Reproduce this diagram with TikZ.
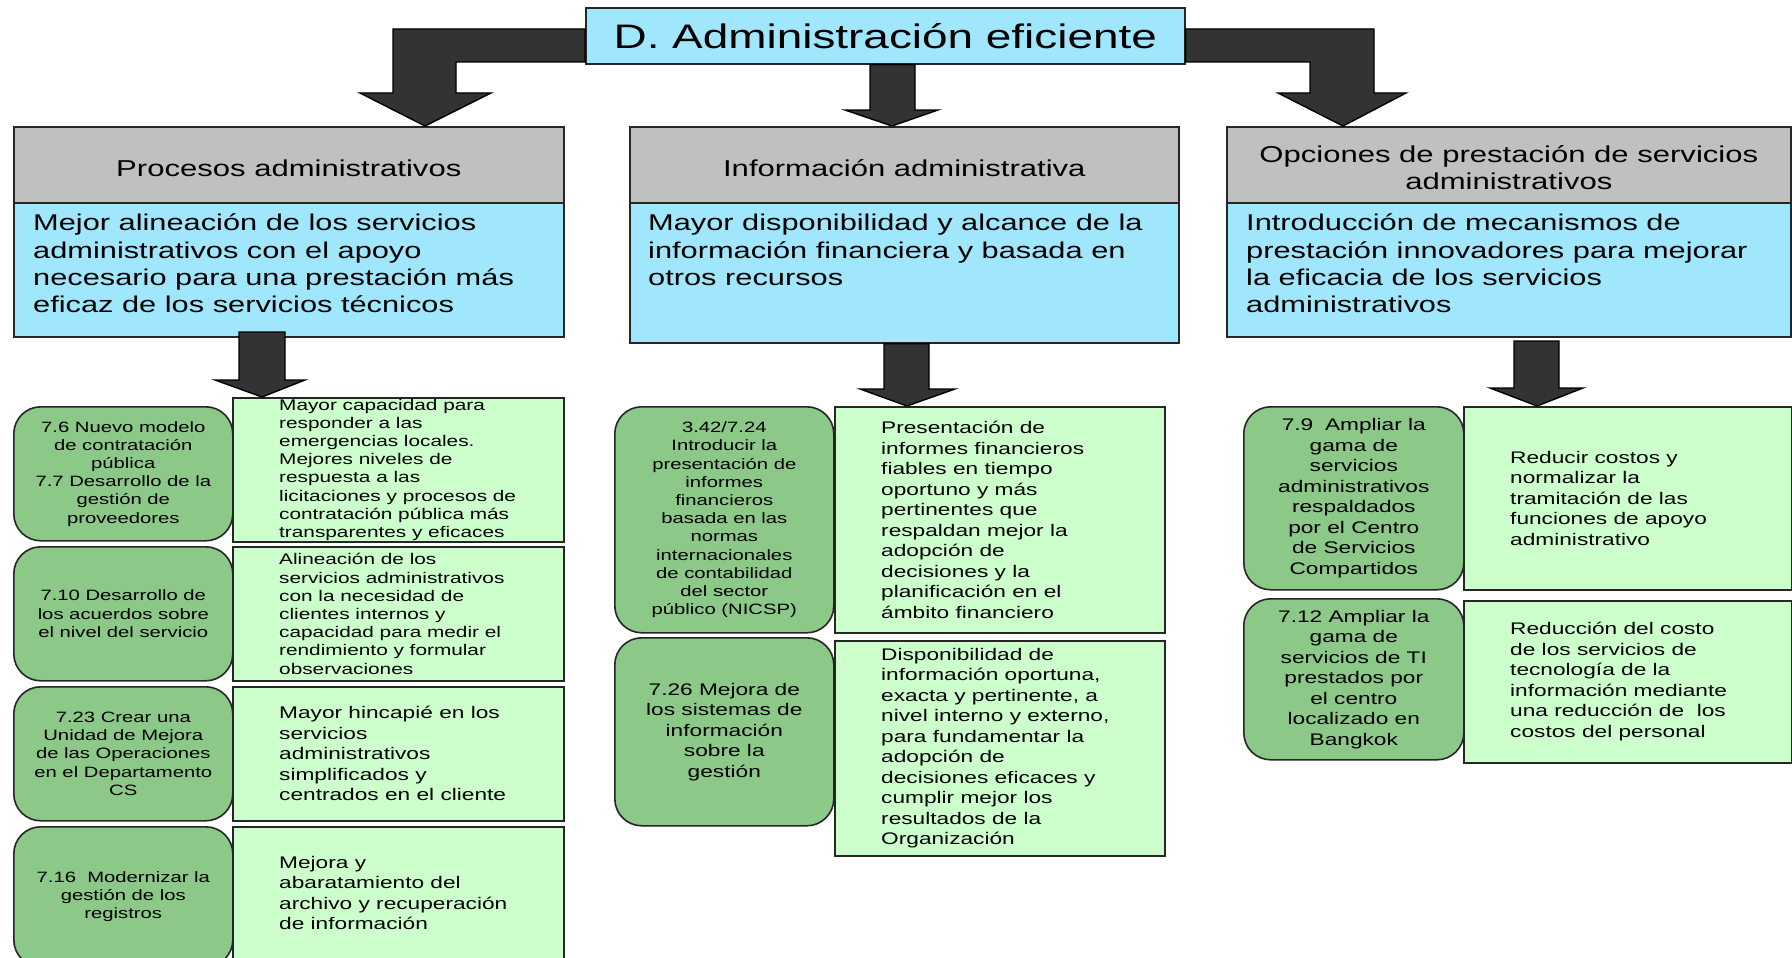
\documentclass[tikz,border=0pt]{standalone}
\usepackage{fontspec}
\setmainfont{Liberation Sans}[FakeStretch=1.35]
\usetikzlibrary{calc}
\definecolor{tblue}{HTML}{A0E6FC}
\definecolor{tgray}{HTML}{C0C0C0}
\definecolor{gdark}{HTML}{8CC887}
\definecolor{glight}{HTML}{CCFFCC}
\definecolor{arrowc}{HTML}{333333}
\begin{document}
\begin{tikzpicture}[x=1pt,y=-1pt,
  box/.style={draw=black!85, line width=1.6pt, inner sep=0pt, anchor=north west},
  ttl/.style={box, fill=tblue, font=\fontsize{34}{40}\selectfont},
  hgray/.style={box, fill=tgray, minimum height=76pt},
  hgtext/.style={inner sep=0pt, align=center, font=\fontsize{23}{26.7}\selectfont},
  hblue/.style={box, fill=tblue},
  htext/.style={anchor=north west, inner sep=0pt, align=left, font=\fontsize{22.8}{27.3}\selectfont},
  gbox/.style={box, fill=gdark, rounded corners=27pt, align=center},
  rbox/.style={box, fill=glight},
  rtext/.style={anchor=west, inner sep=0pt, align=left},
  barrow/.style={fill=arrowc, draw=black, line width=1.4pt, line join=miter},
  fs/.style={font=\fontsize{15}{18.2}\selectfont},
  fsr/.style={font=\fontsize{15.4}{18.2}\selectfont},
  fm/.style={font=\fontsize{16.8}{20.5}\selectfont},
]
\path[use as bounding box, fill=white] (0,0) rectangle (1792,958);

% title
\node[ttl, minimum width=599pt, minimum height=56pt] (title) at (585,7) {D. Administración eficiente};

% headers
\node[hgray, minimum width=550pt] (h1t) at (13,126) {};
\node[hgtext] (h1tx) at ($(h1t.center)+(0,3)$) {Procesos administrativos};
\node[hblue, minimum width=550pt, minimum height=134pt] (h1b) at (13,202) {};
\node[htext] (h1x) at ($(h1b.north west)+(20,12)$) {Mejor alineación de los servicios\\administrativos con el apoyo\\necesario para una prestación más\\eficaz de los servicios técnicos};

\node[hgray, minimum width=549pt] (h2t) at (629,126) {};
\node[hgtext] (h2tx) at ($(h2t.center)+(0,3)$) {Información administrativa};
\node[hblue, minimum width=549pt, minimum height=140pt] (h2b) at (629,202) {};
\node[htext] (h2x) at ($(h2b.north west)+(19,12)$) {Mayor disponibilidad y alcance de la\\información financiera y basada en\\otros recursos};

\node[hgray, minimum width=564pt] (h3t) at (1226,126) {};
\node[hgtext] (h3tx) at ($(h3t.center)+(0,3)$) {Opciones de prestación de servicios\\administrativos};
\node[hblue, minimum width=564pt, minimum height=134pt] (h3b) at (1226,202) {};
\node[htext] (h3x) at ($(h3b.north west)+(20,12)$) {Introducción de mecanismos de\\prestación innovadores para mejorar\\la eficacia de los servicios\\administrativos};

% column 1
\node[rbox, minimum width=331pt, minimum height=144pt] (r11) at (232,397) {};
\node[rtext, fsr] (r11x) at ($(r11.west)+(47,0)$) {Mayor capacidad para\\responder a las\\emergencias locales.\\Mejores niveles de\\respuesta a las\\licitaciones y procesos de\\contratación pública más\\transparentes y eficaces};
\node[gbox, fs, minimum width=219pt, minimum height=134pt] (g11) at (13,406) {7.6 Nuevo modelo\\de contratación\\pública\\7.7 Desarrollo de la\\gestión de\\proveedores};

\node[rbox, minimum width=331pt, minimum height=134pt] (r12) at (232,546) {};
\node[rtext, fsr] (r12x) at ($(r12.west)+(47,0)$) {Alineación de los\\servicios administrativos\\con la necesidad de\\clientes internos y\\capacidad para medir el\\rendimiento y formular\\observaciones};
\node[gbox, fs, minimum width=219pt, minimum height=134pt] (g12) at (13,546) {7.10 Desarrollo de\\los acuerdos sobre\\el nivel del servicio};

\node[rbox, minimum width=331pt, minimum height=134pt] (r13) at (232,686) {};
\node[rtext, fm] (r13x) at ($(r13.west)+(47,0)$) {Mayor hincapié en los\\servicios\\administrativos\\simplificados y\\centrados en el cliente};
\node[gbox, fs, minimum width=219pt, minimum height=134pt] (g13) at (13,686) {7.23 Crear una\\Unidad de Mejora\\de las Operaciones\\en el Departamento\\CS};

\node[rbox, minimum width=331pt, minimum height=136pt] (r14) at (232,826) {};
\node[rtext, fm] (r14x) at ($(r14.west)+(47,-2)$) {Mejora y\\abaratamiento del\\archivo y recuperación\\de información};
\node[gbox, fs, minimum width=219pt, minimum height=140pt] (g14) at (13,826) {7.16\ \ Modernizar la\\gestión de los\\registros};

% column 2
\node[rbox, minimum width=330pt, minimum height=226pt] (r21) at (834,406) {};
\node[rtext, fm] (r21x) at ($(r21.west)+(47,0)$) {Presentación de\\informes financieros\\fiables en tiempo\\oportuno y más\\pertinentes que\\respaldan mejor la\\adopción de\\decisiones y la\\planificación en el\\ámbito financiero};
\node[gbox, fs, minimum width=219pt, minimum height=226pt] (g21) at (614,406) {3.42/7.24\\Introducir la\\presentación de\\informes\\financieros\\basada en las\\normas\\internacionales\\de contabilidad\\del sector\\público (NICSP)};

\node[rbox, minimum width=330pt, minimum height=215pt] (r22) at (834,640) {};
\node[rtext, fm] (r22x) at ($(r22.west)+(47,0)$) {Disponibilidad de\\información oportuna,\\exacta y pertinente, a\\nivel interno y externo,\\para fundamentar la\\adopción de\\decisiones eficaces y\\cumplir mejor los\\resultados de la\\Organización};
\node[gbox, fm, minimum width=219pt, minimum height=188pt] (g22) at (614,637) {7.26 Mejora de\\los sistemas de\\información\\sobre la\\gestión};

% column 3
\node[rbox, minimum width=328pt, minimum height=183pt] (r31) at (1463,406) {};
\node[rtext, fm] (r31x) at ($(r31.west)+(47,0)$) {Reducir costos y\\normalizar la\\tramitación de las\\funciones de apoyo\\administrativo};
\node[gbox, fm, minimum width=220pt, minimum height=183pt] (g31) at (1243,406) {7.9\hspace{0.7em}Ampliar la\\gama de\\servicios\\administrativos\\respaldados\\por el Centro\\de Servicios\\Compartidos};

\node[rbox, minimum width=328pt, minimum height=162pt] (r32) at (1463,600) {};
\node[rtext, fm] (r32x) at ($(r32.west)+(47,0)$) {Reducción del costo\\de los servicios de\\tecnología de la\\información mediante\\una reducción de\ \ los\\costos del personal};
\node[gbox, fm, minimum width=220pt, minimum height=161pt] (g32) at (1243,598) {7.12 Ampliar la\\gama de\\servicios de TI\\prestados por\\el centro\\localizado en\\Bangkok};

% arrows from title
\coordinate (tipL) at ($(h1t.north west)+(412,0)$);
\coordinate (tipM) at ($(h2t.north west)+(263,0)$);
\coordinate (tipR) at ($(h3t.north west)+(117,0)$);
\draw[barrow] (title.west |- 0,29) -- (393,29) -- (393,93) -- (360,93) -- (tipL) -- (491,93) -- (456,93) -- (456,62) -- (title.west |- 0,62) -- cycle;
\draw[barrow] (870,0 |- title.south) -- (870,110) -- (845,110) -- (tipM) -- (938,110) -- (915,110) -- (915,0 |- title.south) -- cycle;
\draw[barrow] (title.east |- 0,29) -- (1374,29) -- (1374,93) -- (1406,93) -- (tipR) -- (1278,93) -- (1310,93) -- (1310,62) -- (title.east |- 0,62) -- cycle;

% arrows from headers
\coordinate (tipD1) at ($(r11.north west)+(30,0)$);
\coordinate (tipD2) at ($(r21.north west)+(73,0)$);
\coordinate (tipD3) at ($(r31.north west)+(74,0)$);
\draw[barrow] (239,332) -- (239,380) -- (215,380) -- (tipD1) -- (305,380) -- (285,380) -- (285,332) -- cycle;
\draw[barrow] (884,0 |- h2b.south) -- (884,389) -- (860,389) -- (tipD2) -- (955,389) -- (929,389) -- (929,0 |- h2b.south) -- cycle;
\draw[barrow] (1514,341) -- (1514,388) -- (1490,388) -- (tipD3) -- (1583,388) -- (1559,388) -- (1559,341) -- cycle;
\end{tikzpicture}
\end{document}
